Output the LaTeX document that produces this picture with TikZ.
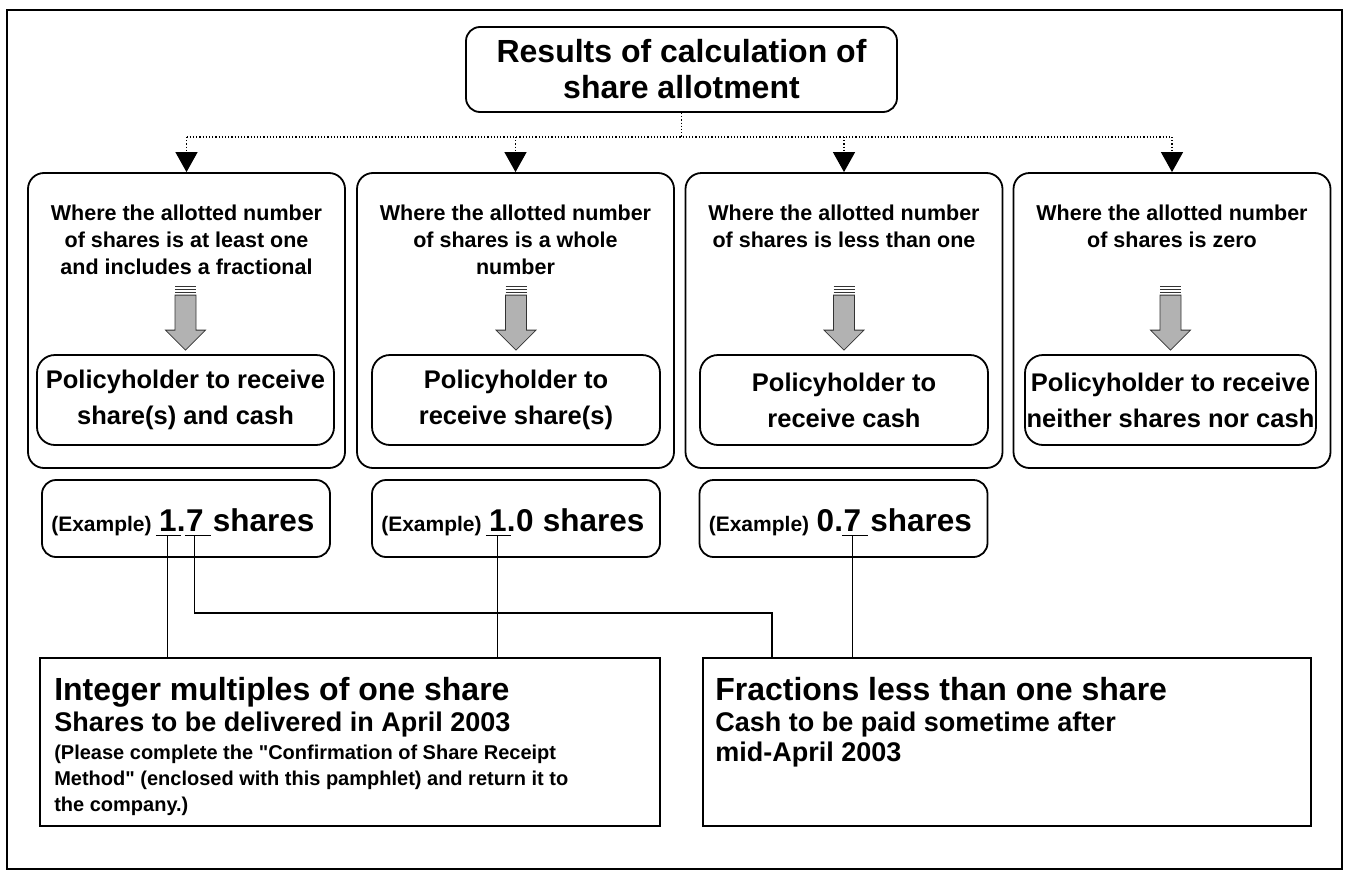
\documentclass[tikz,border=0pt]{standalone}
\usepackage{fontspec}
\setmainfont{Liberation Sans}[Ligatures=TeXOff]
\usetikzlibrary{arrows.meta,calc}

\tikzset{
  roundbox/.style={draw, line width=1.8pt, rounded corners=#1, inner sep=0pt, align=center},
  roundbox/.default=14pt,
  plainbox/.style={draw, line width=1.8pt, inner sep=0pt},
  linkdot/.style={dotted, line width=1.2pt},
  tipdown/.style={-{Triangle[length=20pt,width=22pt]}},
  link/.style={line width=1.1pt},
  fnttitle/.style={font=\fontsize{32}{36}\selectfont\bfseries},
  fntcase/.style={font=\fontsize{21.5}{27}\selectfont\bfseries},
  fntres/.style={font=\fontsize{25.5}{36}\selectfont\bfseries},
  fntsmall/.style={font=\fontsize{21}{24}\selectfont\bfseries},
  fntbig/.style={font=\fontsize{31.5}{36}\selectfont\bfseries},
  fnthead/.style={font=\fontsize{32}{36}\selectfont\bfseries},
  fntsub/.style={font=\fontsize{27}{30}\selectfont\bfseries},
  fntnote/.style={font=\fontsize{20}{26}\selectfont\bfseries},
  textline/.style={inner sep=0pt, anchor=base west},
  digit/.style={fntbig, inner xsep=0pt, inner ysep=4pt, anchor=base west},
  shadearrow/.pic={
    \filldraw[fill=gray!60, draw=black!80, line width=0.8pt]
      (-10.5,55) -- (10.5,55) -- (10.5,20) -- (20,20) -- (0,0) -- (-20,20) -- (-10.5,20) -- cycle;
    \foreach \k in {58,61,64}
      \draw[line width=1.2pt, black!80] (-10.5,\k) -- (10.5,\k);
  }
}

\begin{document}
\begin{tikzpicture}[x=1pt,y=1pt]
\useasboundingbox (0,0) rectangle (1348,-878);

%Frame
\draw[line width=1.4pt] (7,-10) rectangle (1342,-869);

%Rounded Rect: title
\node[roundbox, fnttitle, minimum width=431pt, minimum height=85pt] (title) at (681.5,-69.5) {Results of calculation of\\share allotment};

%Rounded Rect: the four cases
\foreach \i/\cx in {1/186.5, 2/515.5, 3/844, 4/1172}
  \node[roundbox=16pt, minimum width=317pt, minimum height=295pt] (case\i) at (\cx,-320.5) {};

%Dotted Lines
\coordinate (split) at (681.5,-137);
\draw[linkdot] (title.south) -- (split);
\draw[linkdot] (split -| case1.north) -- (split -| case4.north);
\foreach \i in {1,...,4}
  \draw[linkdot, tipdown] (split -| case\i.north) -- (case\i.north);

% Text Node
\node[fntcase, align=center, inner sep=0pt, anchor=north] (where1) at ($(case1.north)+(0,-33)$) {Where the allotted number\\of shares is at least one\\and includes a fractional};
\node[fntcase, align=center, inner sep=0pt, anchor=north] (where2) at ($(case2.north)+(0,-33)$) {Where the allotted number\\of shares is a whole\\number};
\node[fntcase, align=center, inner sep=0pt, anchor=north] (where3) at ($(case3.north)+(0,-33)$) {Where the allotted number\\of shares is less than one};
\node[fntcase, align=center, inner sep=0pt, anchor=north] (where4) at ($(case4.north)+(0,-33)$) {Where the allotted number\\of shares is zero};

%Rounded Rect: results
\node[roundbox=18pt, fntres, minimum width=297pt, minimum height=90pt] (res1) at (185.5,-400) {Policyholder to receive\\share(s) and cash};
\node[roundbox=18pt, fntres, minimum width=288pt, minimum height=90pt] (res2) at (516,-400) {Policyholder to\\receive share(s)};
\node[roundbox=18pt, fntres, minimum width=288pt, minimum height=90pt] (res3) at (844,-400) {Policyholder to\\receive cash};
\node[roundbox=18pt, fntres, minimum width=291pt, minimum height=90pt] (res4) at (1170.5,-400) {Policyholder to receive\\neither shares nor cash};

%Shape: gray arrows
\foreach \i in {1,...,4}
  \pic at ($(res\i.north)+(0,4)$) {shadearrow};

%Rounded Rect: examples
\foreach \i/\cx/\a/\b in {1/186/1/7, 2/516/1/0, 3/843.5/0/7} {
  \node[roundbox, minimum width=288pt, minimum height=77pt] (ex\i) at (\cx,-518.5) {};
  \node[fntsmall, textline] (lab\i) at ($(ex\i.west)+(10,-12.5)$) {(Example)};
  \node[digit] (ia\i) at ([xshift=7pt]lab\i.base east) {\a};
  \node[digit] (dot\i) at (ia\i.base east) {.};
  \node[digit] (ib\i) at (dot\i.base east) {\b};
  \node[fntbig, textline] (sh\i) at ([xshift=8.8pt]ib\i.base east) {shares};
}

%Underlines
\draw[link] ([xshift=-3pt]ia1.south west) -- ([xshift=4pt]ia1.south east);
\draw[link] ([xshift=-1pt]ib1.south west) -- ([xshift=7pt]ib1.south east);
\draw[link] ([xshift=-3pt]ia2.south west) -- ([xshift=4pt]ia2.south east);
\draw[link] ([xshift=-1pt]ib3.south west) -- ([xshift=7pt]ib3.south east);

%Rectangles: share groups
\node[plainbox, minimum width=620pt, minimum height=168pt] (intbox) at (350,-742) {};
\node[plainbox, minimum width=608pt, minimum height=168pt] (fracbox) at (1007,-742) {};

% Text Node
\node[fnthead, textline] (inthead) at ($(intbox.north west)+(15,-43)$) {Integer multiples of one share};
\node[fntsub, textline] (intsub) at ($(intbox.north west)+(15,-74)$) {Shares to be delivered in April 2003};
\node[fntnote, textline] (note1) at ($(intbox.north west)+(15,-102)$) {(Please complete the "Confirmation of Share Receipt};
\node[fntnote, textline] (note2) at ($(intbox.north west)+(15,-128)$) {Method" (enclosed with this pamphlet) and return it to};
\node[fntnote, textline] (note3) at ($(intbox.north west)+(15,-154)$) {the company.)};

\node[fnthead, textline] (frachead) at ($(fracbox.north west)+(13,-43)$) {Fractions less than one share};
\node[fntsub, textline] (fracsub1) at ($(fracbox.north west)+(13,-74)$) {Cash to be paid sometime after};
\node[fntsub, textline] (fracsub2) at ($(fracbox.north west)+(13,-104)$) {mid-April 2003};

%Straight Lines: links
\coordinate (jog) at (772,-613);
\draw[link] (ia1.south) -- (ia1.south |- intbox.north);
\draw[link] (ib1.south) |- (jog) -- (jog |- fracbox.north);
\draw[link] (ia2.south) -- (ia2.south |- intbox.north);
\draw[link] (ib3.south) -- (ib3.south |- fracbox.north);

\end{tikzpicture}
\end{document}
